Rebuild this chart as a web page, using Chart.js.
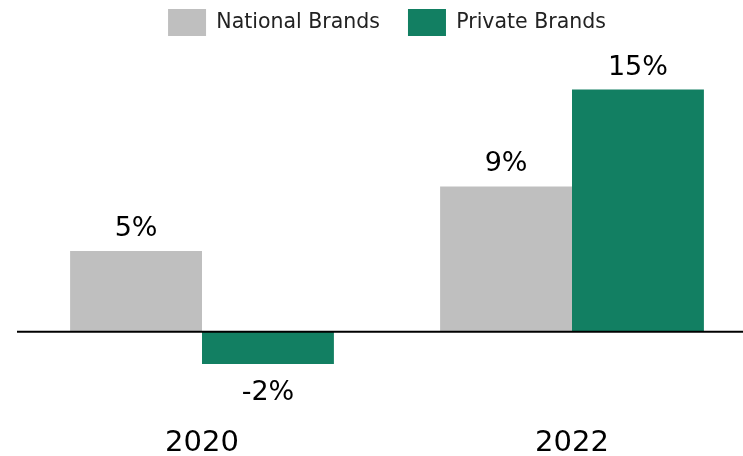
<!DOCTYPE html>
<html>
<head>
<meta charset="utf-8">
<script src="https://cdn.jsdelivr.net/npm/chart.js@4/dist/chart.umd.min.js"></script>
<style>
  html, body { margin: 0; padding: 0; background: #fff; overflow: hidden; width: 743px; height: 456px; }
  #wrap { position: absolute; left: 0; top: -19px; width: 774px; height: 510px; }
</style>
</head>
<body>
<div id="wrap"><canvas id="chart" width="774" height="510"></canvas></div>
<script>
// Years and growth rates (%) for each brand type
const years = ['2020', '2022'];
const nationalBrands = [5, 9];
const privateBrands = [-2, 15];
const seriesNames = ['National Brands', 'Private Brands'];

const GRAY = '#BFBFBF';
const GREEN = '#127F62';
const FONT = "'DejaVu Sans', Verdana, sans-serif";

// Percent labels above positive bars and below negative ones
const valueLabels = {
  id: 'valueLabels',
  afterDatasetsDraw(chart) {
    const ctx = chart.ctx;
    ctx.save();
    ctx.font = '27px ' + FONT;
    ctx.fillStyle = '#000';
    ctx.textAlign = 'center';
    ctx.textBaseline = 'alphabetic';
    chart.data.datasets.forEach((ds, di) => {
      const meta = chart.getDatasetMeta(di);
      meta.data.forEach((bar, i) => {
        const v = ds.data[i];
        const text = v + '%';
        if (v >= 0) {
          ctx.fillText(text, bar.x, bar.y - 15);
        } else {
          ctx.fillText(text, bar.x, bar.y + 36);
        }
      });
    });
    ctx.restore();
  }
};

// Baseline at zero drawn over the bars
const zeroLine = {
  id: 'zeroLine',
  afterDatasetsDraw(chart) {
    const { ctx, chartArea, scales } = chart;
    const y = scales.y.getPixelForValue(0);
    ctx.save();
    ctx.strokeStyle = '#000';
    ctx.lineWidth = 2;
    ctx.beginPath();
    ctx.moveTo(chartArea.left, y);
    ctx.lineTo(chartArea.right, y);
    ctx.stroke();
    ctx.restore();
  }
};

new Chart(document.getElementById('chart'), {
  type: 'bar',
  data: {
    labels: years,
    datasets: [
      { label: seriesNames[0], data: nationalBrands, backgroundColor: GRAY },
      { label: seriesNames[1], data: privateBrands, backgroundColor: GREEN }
    ]
  },
  options: {
    responsive: false,
    animation: false,
    devicePixelRatio: 1,
    layout: { padding: { left: 17, right: 17, top: 0, bottom: 0 } },
    datasets: {
      bar: { categoryPercentage: 0.713, barPercentage: 1, borderWidth: 0 }
    },
    plugins: {
      tooltip: { enabled: false },
      legend: {
        position: 'top',
        maxWidth: 732,
        labels: {
          boxWidth: 38,
          boxHeight: 27,
          padding: 28,
          color: '#222',
          font: { family: FONT, size: 20.5 }
        }
      }
    },
    scales: {
      x: {
        grid: { display: false, drawTicks: false },
        border: { display: false },
        ticks: { color: '#000', padding: 30, font: { family: FONT, size: 29 } }
      },
      y: {
        min: -4,
        max: 17.7,
        grid: { display: false, drawTicks: false },
        border: { display: false },
        ticks: { display: false }
      }
    }
  },
  plugins: [valueLabels, zeroLine]
});
</script>
</body>
</html>
